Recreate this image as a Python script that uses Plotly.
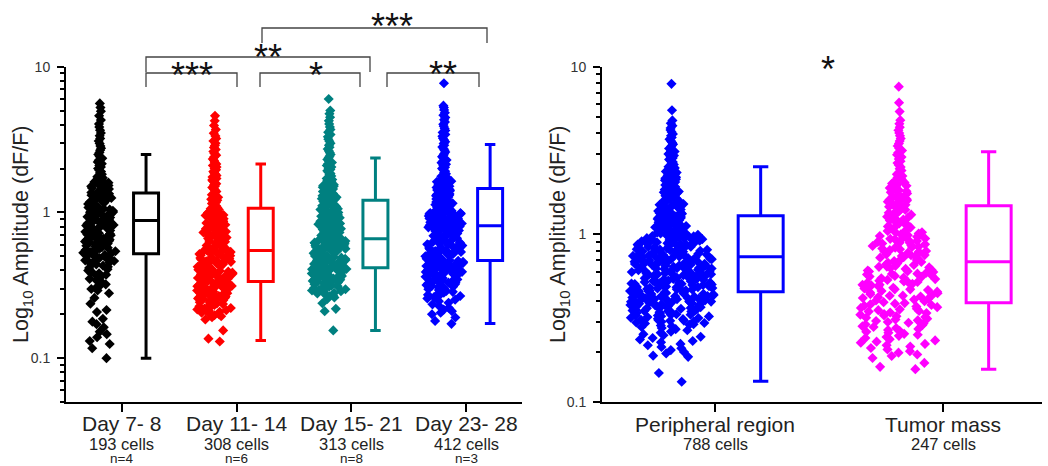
import math
import plotly.graph_objects as go

W, H = 1048, 466

# ---------------- categories / labels ----------------
left_groups = ["Day 7- 8", "Day 11- 14", "Day 15- 21", "Day 23- 28"]
left_cells = ["193 cells", "308 cells", "313 cells", "412 cells"]
left_n = ["n=4", "n=6", "n=8", "n=3"]
right_groups = ["Peripheral region", "Tumor mass"]
right_cells = ["788 cells", "247 cells"]

left_colors = ["#000000", "#ff0000", "#008080", "#0000ff"]
right_colors = ["#0000ff", "#ff00ff"]

# ---------------- per-cell amplitudes (dF/F) ----------------
day7_8 = [
    0.100, 0.117, 0.125, 0.131, 0.139, 0.146, 0.152, 0.163, 0.171, 0.178, 0.186, 0.207, 0.214, 0.236, 0.259, 0.279,
    0.291, 0.298, 0.306, 0.314, 0.321, 0.333, 0.341, 0.35, 0.358, 0.367, 0.374, 0.382, 0.391, 0.399, 0.407, 0.416,
    0.423, 0.431, 0.44, 0.447, 0.453, 0.458, 0.464, 0.469, 0.475, 0.481, 0.487, 0.492, 0.499, 0.505, 0.511, 0.517,
    0.522, 0.528, 0.534, 0.541, 0.546, 0.553, 0.559, 0.566, 0.572, 0.578, 0.585, 0.591, 0.598, 0.604, 0.611, 0.618,
    0.625, 0.631, 0.638, 0.646, 0.653, 0.66, 0.667, 0.675, 0.682, 0.69, 0.697, 0.705, 0.713, 0.72, 0.728, 0.736,
    0.744, 0.752, 0.761, 0.769, 0.777, 0.786, 0.794, 0.803, 0.812, 0.82, 0.829, 0.838, 0.847, 0.856, 0.865, 0.875,
    0.884, 0.894, 0.903, 0.913, 0.923, 0.932, 0.942, 0.952, 0.963, 0.973, 0.983, 0.994, 1.005, 1.015, 1.026, 1.037,
    1.048, 1.06, 1.071, 1.082, 1.094, 1.106, 1.118, 1.13, 1.142, 1.154, 1.167, 1.179, 1.192, 1.205, 1.218, 1.231,
    1.244, 1.258, 1.271, 1.285, 1.299, 1.313, 1.327, 1.341, 1.37, 1.39, 1.41, 1.43, 1.45, 1.47, 1.49, 1.51, 1.53,
    1.555, 1.58, 1.6, 1.62, 1.645, 1.67, 1.7, 1.73, 1.76, 1.79, 1.83, 1.87, 1.91, 1.95, 2.0, 2.05, 2.1, 2.16, 2.22,
    2.28, 2.35, 2.42, 2.5, 2.58, 2.67, 2.76, 2.86, 2.97, 3.09, 3.22, 3.36, 3.51, 3.67, 3.85, 4.05, 4.3, 4.6, 4.95,
    5.25, 5.6]

day11_14 = [
    0.13, 0.136, 0.155, 0.184,
    0.191, 0.194, 0.197, 0.2, 0.202, 0.205, 0.208, 0.211, 0.213, 0.216, 0.219, 0.221, 0.224, 0.227, 0.229, 0.232,
    0.235, 0.237, 0.24, 0.242, 0.245, 0.247, 0.25, 0.252, 0.255, 0.257, 0.26, 0.262, 0.265, 0.267, 0.27, 0.272,
    0.274, 0.277, 0.279, 0.281, 0.284, 0.286, 0.288, 0.291, 0.293, 0.295, 0.297, 0.3, 0.302, 0.304, 0.306, 0.308,
    0.311, 0.313, 0.315, 0.317, 0.321, 0.325, 0.329, 0.334,
    0.338, 0.341, 0.345, 0.348, 0.351, 0.355, 0.358, 0.361, 0.365, 0.368, 0.372, 0.375, 0.379, 0.382, 0.386, 0.389,
    0.393, 0.397, 0.4, 0.404, 0.408, 0.411, 0.415, 0.419, 0.423, 0.427, 0.431, 0.434, 0.438, 0.442, 0.446, 0.45,
    0.454, 0.458, 0.462, 0.466, 0.471, 0.475, 0.479, 0.483, 0.487, 0.492, 0.496, 0.5, 0.505, 0.509, 0.513, 0.518,
    0.522, 0.527, 0.531, 0.536, 0.54, 0.545, 0.547, 0.549, 0.551, 0.553, 0.556, 0.558,
    0.562, 0.57, 0.578, 0.586, 0.594, 0.602, 0.611, 0.619, 0.628, 0.636, 0.645, 0.654, 0.663, 0.672, 0.681, 0.69,
    0.7, 0.709, 0.719, 0.729, 0.739, 0.749, 0.759, 0.769, 0.78, 0.79, 0.801, 0.812, 0.823, 0.834, 0.845, 0.857,
    0.868, 0.88, 0.892, 0.904, 0.916, 0.929, 0.941, 0.954, 0.967, 0.98, 0.993, 1.006, 1.02, 1.034, 1.047, 1.061,
    1.068, 0.615, 0.652, 0.705, 0.733, 0.774, 0.83, 0.87, 0.93, 0.96, 1.01, 1.04,
    1.08, 1.1, 1.11, 1.13, 1.15, 1.17, 1.19, 1.21, 1.23, 1.25, 1.27, 1.29, 1.32, 1.34, 1.37, 1.39, 1.42, 1.45, 1.48,
    1.51, 1.54, 1.57, 1.6, 1.64, 1.67, 1.71, 1.75, 1.79, 1.83, 1.87, 1.91, 1.96, 2.0, 2.05, 2.1, 2.15, 2.21, 2.27,
    2.33, 2.4, 2.47, 2.54, 2.62, 2.7, 2.79, 2.88, 2.98, 3.09, 3.21, 3.35, 3.5, 3.7, 3.95, 4.25, 4.6]

day15_21 = [
    0.155, 0.21, 0.218, 0.238,
    0.255, 0.261, 0.266, 0.27, 0.274, 0.278, 0.281, 0.285, 0.288, 0.291, 0.294, 0.297, 0.3, 0.303, 0.306, 0.309,
    0.312, 0.315, 0.318, 0.321, 0.324, 0.327, 0.33, 0.333, 0.336, 0.339, 0.342, 0.345, 0.348, 0.351, 0.354, 0.357,
    0.36, 0.363, 0.366, 0.369, 0.372, 0.375, 0.378, 0.381, 0.384, 0.387, 0.39, 0.393, 0.396, 0.399, 0.402, 0.404,
    0.407, 0.409, 0.411, 0.413, 0.414, 0.415, 0.416,
    0.419, 0.423, 0.427, 0.431, 0.435, 0.439, 0.443, 0.447, 0.451, 0.455, 0.459, 0.463, 0.467, 0.471, 0.476, 0.48,
    0.484, 0.489, 0.493, 0.497, 0.502, 0.506, 0.511, 0.515, 0.52, 0.525, 0.529, 0.534, 0.539, 0.543, 0.548, 0.553,
    0.558, 0.563, 0.568, 0.573, 0.578, 0.583, 0.588, 0.593, 0.598, 0.604, 0.609, 0.614, 0.62, 0.625, 0.631, 0.636,
    0.642, 0.647, 0.653, 0.656, 0.658, 0.544, 0.571, 0.596, 0.617, 0.633, 0.645, 0.651,
    0.663, 0.671, 0.679, 0.687, 0.695, 0.703, 0.712, 0.72, 0.729, 0.737, 0.746, 0.755, 0.764, 0.773, 0.782, 0.791,
    0.8, 0.81, 0.819, 0.829, 0.839, 0.848, 0.858, 0.868, 0.879, 0.889, 0.899, 0.91, 0.92, 0.931, 0.942, 0.953,
    0.964, 0.975, 0.987, 0.998, 1.01, 1.022, 1.034, 1.046, 1.058, 0.68, 0.71, 0.75, 0.79, 0.84, 0.87, 0.93, 0.97,
    1.03,
    1.07, 1.08, 1.1, 1.11, 1.13, 1.14, 1.16, 1.17, 1.19, 1.2, 1.22, 1.24, 1.25, 1.27, 1.29, 1.3, 1.32, 1.34, 1.36,
    1.37, 1.39, 1.41, 1.43, 1.45, 1.47, 1.49, 1.51, 1.53, 1.55, 1.57, 1.59, 1.12, 1.23, 1.35, 1.46,
    1.62, 1.65, 1.68, 1.71, 1.74, 1.78, 1.81, 1.85, 1.89, 1.93, 1.97, 2.01, 2.05, 2.1, 2.15, 2.2, 2.25, 2.31, 2.37,
    2.43, 2.5, 2.57, 2.64, 2.72, 2.8, 2.89, 2.98, 3.08, 3.18, 3.3, 3.42, 3.55, 3.7, 3.86, 4.05, 4.25, 4.5, 4.75, 5.0,
    6.0]

day23_28 = [
    0.172, 0.18, 0.19, 0.2, 0.205, 0.21, 0.215,
    0.222, 0.228, 0.234, 0.24, 0.246, 0.252, 0.257, 0.262, 0.267, 0.272, 0.277, 0.281, 0.285, 0.289, 0.293, 0.297,
    0.301, 0.305, 0.309, 0.313, 0.317, 0.321, 0.325, 0.329, 0.332, 0.336, 0.34, 0.344, 0.347, 0.351, 0.355, 0.358,
    0.362, 0.366, 0.369, 0.373, 0.377, 0.38, 0.384, 0.388, 0.391, 0.395, 0.399, 0.402, 0.406, 0.41, 0.413, 0.417,
    0.421, 0.424, 0.428, 0.432, 0.436, 0.439, 0.443, 0.447, 0.451, 0.454, 0.458, 0.462, 0.466, 0.31, 0.35, 0.39,
    0.42, 0.445, 0.27, 0.33, 0.37, 0.41,
    0.47, 0.475, 0.48, 0.485, 0.49, 0.495, 0.5, 0.505, 0.51, 0.515, 0.52, 0.526, 0.531, 0.536, 0.542, 0.547, 0.553,
    0.558, 0.564, 0.569, 0.575, 0.581, 0.586, 0.592, 0.598, 0.604, 0.61, 0.616, 0.622, 0.628, 0.634, 0.64, 0.646,
    0.652, 0.659, 0.665, 0.671, 0.678, 0.684, 0.691, 0.697, 0.704, 0.711, 0.717, 0.724, 0.731, 0.738, 0.745, 0.752,
    0.759, 0.766, 0.773, 0.78, 0.788, 0.795, 0.802, 0.806, 0.809, 0.49, 0.53, 0.57, 0.61, 0.65, 0.69, 0.72, 0.76,
    0.79, 0.51, 0.6, 0.7,
    0.813, 0.818, 0.823, 0.828, 0.834, 0.839, 0.845, 0.85, 0.856, 0.861, 0.867, 0.873, 0.878, 0.884, 0.89, 0.896,
    0.902, 0.908, 0.914, 0.92, 0.926, 0.932, 0.938, 0.944, 0.951, 0.957, 0.963, 0.97, 0.976, 0.983, 0.99, 0.996,
    0.83, 0.87, 0.91, 0.95, 0.98, 0.86, 0.93, 0.99,
    1.005, 1.015, 1.025, 1.035, 1.045, 1.055, 1.066, 1.076, 1.087, 1.098, 1.109, 1.12, 1.131, 1.142, 1.154, 1.165,
    1.177, 1.189, 1.2, 1.212, 1.225, 1.237, 1.249, 1.262, 1.275, 1.287, 1.3, 1.313, 1.327, 1.34, 1.354, 1.367,
    1.381, 1.395, 1.409, 1.423, 1.438, 1.452, 1.467, 1.482, 1.497, 1.512, 1.527, 1.543, 1.558, 1.574, 1.59, 1.606,
    1.622, 1.638, 1.655, 1.08, 1.19, 1.29, 1.4,
    1.68, 1.71, 1.74, 1.77, 1.8, 1.84, 1.88, 1.92, 1.96, 2.0, 2.04, 2.09, 2.14, 2.19, 2.24, 2.29, 2.35, 2.41, 2.47,
    2.53, 2.6, 2.67, 2.74, 2.81, 2.89, 2.97, 3.05, 3.14, 3.23, 3.33, 3.43, 3.54, 3.65, 3.77, 3.9, 4.03, 4.17, 4.32,
    4.48, 4.65, 4.83, 5.05, 5.25, 5.4, 7.7]

peripheral = [
    0.132, 0.149, 0.186, 0.189, 0.195, 0.199, 0.204, 0.209, 0.213, 0.218, 0.222, 0.227, 0.231, 0.236, 0.241, 0.245,
    0.25, 0.254, 0.259, 0.263, 0.268, 0.272, 0.276, 0.28, 0.283, 0.286, 0.289,
    0.291, 0.294, 0.296, 0.298, 0.301, 0.302, 0.305, 0.308, 0.309, 0.312, 0.314, 0.317, 0.318, 0.321, 0.324, 0.325,
    0.327, 0.331, 0.332, 0.334, 0.337, 0.339, 0.342, 0.343, 0.346, 0.348, 0.351, 0.353, 0.354, 0.357, 0.36, 0.361,
    0.364, 0.366, 0.368, 0.371, 0.373, 0.375, 0.377, 0.379, 0.382, 0.384, 0.386, 0.388, 0.391, 0.393, 0.395, 0.397,
    0.399, 0.306, 0.328, 0.349, 0.363, 0.381, 0.396,
    0.401, 0.403, 0.406, 0.408, 0.41, 0.413, 0.415, 0.417, 0.42, 0.422, 0.425, 0.427, 0.429, 0.432, 0.434, 0.437,
    0.439, 0.442, 0.444, 0.447, 0.449, 0.452, 0.454, 0.457, 0.459, 0.462, 0.465, 0.467, 0.47, 0.472, 0.475, 0.478,
    0.48, 0.483, 0.486, 0.488, 0.491, 0.494, 0.496, 0.499, 0.502, 0.505, 0.507, 0.51, 0.513, 0.516, 0.519, 0.521,
    0.524, 0.527, 0.53, 0.533, 0.536, 0.539, 0.542, 0.545, 0.548, 0.411, 0.426, 0.441, 0.456, 0.469, 0.484, 0.498,
    0.512, 0.526, 0.538, 0.419, 0.463, 0.509,
    0.551, 0.555, 0.558, 0.561, 0.565, 0.568, 0.571, 0.575, 0.578, 0.582, 0.585, 0.589, 0.592, 0.596, 0.6, 0.603,
    0.607, 0.611, 0.614, 0.618, 0.622, 0.626, 0.63, 0.633, 0.637, 0.641, 0.645, 0.649, 0.653, 0.657, 0.662, 0.666,
    0.67, 0.674, 0.678, 0.683, 0.687, 0.691, 0.696, 0.7, 0.705, 0.709, 0.714, 0.718, 0.723, 0.728, 0.732, 0.737,
    0.742, 0.747, 0.563, 0.587, 0.609, 0.628, 0.651, 0.672, 0.693, 0.716, 0.735, 0.579, 0.624, 0.668, 0.711, 0.744,
    0.598, 0.639, 0.681, 0.726, 0.573, 0.659,
    0.752, 0.757, 0.762, 0.767, 0.772, 0.777, 0.782, 0.788, 0.793, 0.798, 0.804, 0.809, 0.815, 0.82, 0.826, 0.831,
    0.837, 0.843, 0.849, 0.854, 0.86, 0.866, 0.872, 0.878, 0.885, 0.891, 0.897, 0.903, 0.91, 0.916, 0.923, 0.929,
    0.936, 0.943, 0.949, 0.956, 0.963, 0.97, 0.977, 0.984, 0.991, 0.998, 0.765, 0.795, 0.823, 0.852, 0.881, 0.913,
    0.941, 0.972, 0.779, 0.84, 0.9, 0.96, 0.811, 0.869, 0.926, 0.988, 0.757, 0.994,
    1.004, 1.012, 1.021, 1.03, 1.038, 1.047, 1.056, 1.065, 1.074, 1.083, 1.093, 1.102, 1.112, 1.121, 1.131, 1.141,
    1.151, 1.161, 1.171, 1.182, 1.192, 1.203, 1.214, 1.225, 1.236, 1.247, 1.258, 1.27, 1.281, 1.293, 1.305, 1.317,
    1.329, 1.341, 1.354, 1.366, 1.379, 1.392, 1.405, 1.418, 1.432, 1.445, 1.459, 1.473, 1.487, 1.501, 1.516, 1.53,
    1.026, 1.077, 1.125, 1.178, 1.23, 1.288, 1.35,
    1.55, 1.57, 1.59, 1.6, 1.62, 1.64, 1.66, 1.68, 1.7, 1.72, 1.74, 1.76, 1.78, 1.8, 1.83, 1.85, 1.87, 1.9, 1.92,
    1.95, 1.97, 2.0, 2.02, 2.05, 2.08, 2.1, 2.13, 2.16, 2.19, 2.22, 2.25, 2.28, 2.31, 2.34, 2.37, 1.65, 1.79, 1.93,
    2.07, 2.24,
    2.41, 2.45, 2.49, 2.53, 2.57, 2.61, 2.66, 2.7, 2.75, 2.8, 2.85, 2.9, 2.95, 3.01, 3.06, 3.12, 3.18, 3.25, 3.31,
    3.38, 3.45, 3.53, 3.61, 3.69, 3.78, 3.87, 3.97, 4.08, 4.19, 4.31, 4.45, 4.6, 4.78, 5.5, 7.9]

tumor_mass = [
    0.157, 0.162, 0.171, 0.183, 0.188, 0.192, 0.197, 0.201, 0.206, 0.21, 0.214, 0.218, 0.222, 0.226, 0.229, 0.233,
    0.237, 0.241, 0.244, 0.248, 0.252, 0.255, 0.259, 0.262, 0.266, 0.269, 0.273, 0.276, 0.28, 0.283, 0.287, 0.29,
    0.294, 0.297, 0.3, 0.304, 0.307, 0.311, 0.314, 0.318, 0.321, 0.325, 0.328, 0.332, 0.335, 0.339, 0.342, 0.346,
    0.349, 0.353, 0.357, 0.36, 0.364, 0.368, 0.371, 0.375, 0.379, 0.382, 0.386, 0.389,
    0.394, 0.399, 0.403, 0.408, 0.412, 0.417, 0.421, 0.426, 0.431, 0.435, 0.44, 0.445, 0.45, 0.455, 0.46, 0.465,
    0.47, 0.475, 0.48, 0.485, 0.491, 0.496, 0.501, 0.507, 0.512, 0.518, 0.524, 0.529, 0.535, 0.541, 0.547, 0.553,
    0.559, 0.565, 0.571, 0.577, 0.583, 0.59, 0.596, 0.602, 0.609, 0.615, 0.622, 0.629, 0.635, 0.642, 0.649, 0.656,
    0.663, 0.67, 0.677, 0.684, 0.43, 0.47, 0.52, 0.56, 0.6, 0.64, 0.5, 0.58,
    0.694, 0.702, 0.71, 0.718, 0.726, 0.735, 0.743, 0.752, 0.76, 0.769, 0.778, 0.787, 0.796, 0.805, 0.814, 0.823,
    0.833, 0.842, 0.852, 0.862, 0.872, 0.882, 0.892, 0.902, 0.913, 0.923, 0.934, 0.945, 0.956, 0.967, 0.978, 0.989,
    1.001, 1.012, 1.024, 1.036, 1.048, 0.73, 0.79, 0.84, 0.89, 0.94, 0.99, 1.03, 0.75,
    1.07, 1.085, 1.1, 1.115, 1.13, 1.145, 1.16, 1.175, 1.19, 1.21, 1.225, 1.24, 1.26, 1.275, 1.29, 1.31, 1.33,
    1.345, 1.365, 1.385, 1.4, 1.42, 1.44, 1.46, 1.48, 1.5, 1.52, 1.545, 1.565, 1.59, 1.61, 1.635, 1.66, 1.68, 1.705,
    1.73, 1.755, 1.78, 1.81, 1.835, 1.86, 1.89, 1.92, 1.95, 1.98, 2.01, 2.04, 2.07, 1.5, 1.62,
    2.13, 2.18, 2.23, 2.28, 2.34, 2.4, 2.46, 2.52, 2.59, 2.66, 2.73, 2.81, 2.89, 2.98, 3.07, 3.16, 3.26, 3.37, 3.48,
    3.6, 3.73, 3.87, 4.02, 4.18, 4.36, 4.56, 4.8, 5.4, 6.1, 7.6]

left_values = [day7_8, day11_14, day15_21, day23_28]
right_values = [peripheral, tumor_mass]

# ---------------- box statistics ----------------
left_q1 = [0.52, 0.336, 0.417, 0.468]
left_median = [0.88, 0.548, 0.66, 0.81]
left_q3 = [1.36, 1.07, 1.21, 1.46]
left_lower = [0.10, 0.132, 0.155, 0.173]
left_upper = [2.50, 2.15, 2.36, 2.92]

right_q1 = [0.455, 0.391]
right_median = [0.736, 0.687]
right_q3 = [1.29, 1.48]
right_lower = [0.133, 0.157]
right_upper = [2.53, 3.11]

sig_left = ["***", "*", "**", "**", "***"]
sig_right = ["*"]

# ---------------- style: scatter-cloud widths (pixels) per value band ----------------
left_bands = [
    [(0.45, 26), (1.66, 36), (99, 7)],
    [(1.03, 36), (99, 10)],
    [(1.06, 36), (1.6, 18), (99, 7)],
    [(1.0, 38), (1.66, 20), (99, 7)],
]
right_bands = [
    [(0.29, 76), (1.0, 84), (1.54, 36), (2.4, 18), (99, 8)],
    [(1.06, 80), (2.1, 28), (99, 7)],
]

FONT = "Arial, 'Liberation Sans', sans-serif"
L_X0, L_X1 = 66, 522
R_X0, R_X1 = 602, 1042
Y_TOP, Y_BOT = 66.7, 402
L_RANGE = [0.512, 4.488]
R_RANGE = [0.504, 2.434]
L_UNIT = (L_X1 - L_X0) / (L_RANGE[1] - L_RANGE[0])
R_UNIT = (R_X1 - R_X0) / (R_RANGE[1] - R_RANGE[0])
MSIZE = 7.8


def px(x):
    return x / W


def py(y):
    return 1 - y / H


fig = go.Figure()


def add_cloud(vals, pos, bands, unit, col, xa, ya):
    lo = 0
    for hi, wpx in bands:
        sub = [v for v in vals if lo <= v < hi]
        lo = hi
        if not sub:
            continue
        fig.add_trace(go.Box(
            y=sub, x0=pos, width=wpx / unit, boxpoints="all", jitter=1, pointpos=0,
            fillcolor="rgba(0,0,0,0)", line=dict(width=0, color="rgba(0,0,0,0)"),
            marker=dict(symbol="diamond", size=MSIZE, color=col, line=dict(width=0)),
            xaxis=xa, yaxis=ya, showlegend=False, hoverinfo="y"))


for i, (vals, col) in enumerate(zip(left_values, left_colors)):
    pos = i + 1
    add_cloud(vals, pos - 0.19, left_bands[i], L_UNIT, col, "x", "y")
    fig.add_trace(go.Box(
        x=[pos + 0.21], q1=[left_q1[i]], median=[left_median[i]], q3=[left_q3[i]],
        lowerfence=[left_lower[i]], upperfence=[left_upper[i]], width=25 / L_UNIT, whiskerwidth=0.42,
        boxpoints=False, fillcolor="rgba(255,255,255,0)", line=dict(color=col, width=3),
        xaxis="x", yaxis="y", showlegend=False))

for i, (vals, col) in enumerate(zip(right_values, right_colors)):
    pos = i + 1
    add_cloud(vals, pos - 0.19, right_bands[i], R_UNIT, col, "x2", "y2")
    fig.add_trace(go.Box(
        x=[pos + 0.20], q1=[right_q1[i]], median=[right_median[i]], q3=[right_q3[i]],
        lowerfence=[right_lower[i]], upperfence=[right_upper[i]], width=45 / R_UNIT, whiskerwidth=0.34,
        boxpoints=False, fillcolor="rgba(255,255,255,0)", line=dict(color=col, width=3),
        xaxis="x2", yaxis="y2", showlegend=False))

minor_vals = [round(v * m, 3) for v in (0.01, 0.1, 1) for m in range(2, 10)]

yaxis_common = dict(
    type="log", showgrid=False, zeroline=False, showline=True, linecolor="black", linewidth=2,
    automargin=False, ticks="outside", ticklen=7, tickwidth=1.5, tickcolor="black",
    tickmode="array", tickvals=[0.1, 1, 10], ticktext=["0.1", "1", "10"],
    tickfont=dict(family=FONT, size=14, color="#333333"), ticklabelstandoff=4,
    minor=dict(ticks="outside", ticklen=4, tickwidth=1.5, tickcolor="black", tickmode="array",
               tickvals=minor_vals, showgrid=False),
    domain=[py(Y_BOT), py(Y_TOP)],
)

xaxis_common = dict(
    showgrid=False, zeroline=False, showline=True, linecolor="black", linewidth=2, automargin=False,
    ticks="outside", ticklen=8, tickwidth=2, tickcolor="black", showticklabels=False, tickmode="array",
)

fig.update_layout(
    width=W, height=H, margin=dict(l=0, r=0, t=0, b=0, autoexpand=False),
    paper_bgcolor="white", plot_bgcolor="white",
    font=dict(family=FONT, color="#222222"),
    xaxis=dict(xaxis_common, domain=[px(L_X0), px(L_X1)], range=L_RANGE, tickvals=[1, 2, 3, 4], anchor="y"),
    yaxis=dict(yaxis_common, range=[math.log10(0.05), 1], anchor="x"),
    xaxis2=dict(xaxis_common, domain=[px(R_X0), px(R_X1)], range=R_RANGE, tickvals=[1, 2], anchor="y2"),
    yaxis2=dict(yaxis_common, range=[-1, 1], anchor="x2"),
)

ann = []
for i in range(4):
    ann.append(dict(x=i + 1, y=py(423.5), xref="x", yref="paper", text=left_groups[i], showarrow=False,
                    font=dict(family=FONT, size=21, color="#222222"), xanchor="center", yanchor="middle"))
    ann.append(dict(x=i + 1, y=py(443.5), xref="x", yref="paper", text=left_cells[i], showarrow=False,
                    font=dict(family=FONT, size=16.5, color="#222222"), xanchor="center", yanchor="middle"))
    ann.append(dict(x=i + 1, y=py(458.5), xref="x", yref="paper", text=left_n[i], showarrow=False,
                    font=dict(family=FONT, size=13.5, color="#222222"), xanchor="center", yanchor="middle"))
for i in range(2):
    ann.append(dict(x=i + 1, y=py(424), xref="x2", yref="paper", text=right_groups[i], showarrow=False,
                    font=dict(family=FONT, size=21, color="#222222"), xanchor="center", yanchor="middle"))
    ann.append(dict(x=i + 1, y=py(444), xref="x2", yref="paper", text=right_cells[i], showarrow=False,
                    font=dict(family=FONT, size=16.5, color="#222222"), xanchor="center", yanchor="middle"))

for xpix in (22, 559):
    ann.append(dict(x=px(xpix), y=py(234), xref="paper", yref="paper",
                    text="Log<sub>10</sub> Amplitude (dF/F)", textangle=-90, showarrow=False,
                    font=dict(family=FONT, size=21.5, color="#222222"),
                    xanchor="center", yanchor="middle"))

# significance brackets: (x_left, x_right, y_top, y_leg_bottom, star_x, star_glyph_center_y) in pixels
brackets = [
    (146, 237, 73, 87, 192, 69),
    (260, 360, 73, 87, 316, 69),
    (387, 479, 73, 87, 443, 68),
    (146, 370, 57, 72, 268, 51),
    (262, 487, 28, 43, 392, 21),
]
shapes = []
for (xa, xb, yt, yb, sx, sy), s in zip(brackets, sig_left):
    shapes.append(dict(type="path", xref="paper", yref="paper",
                       path=f"M {px(xa)} {py(yb)} L {px(xa)} {py(yt)} L {px(xb)} {py(yt)} L {px(xb)} {py(yb)}",
                       line=dict(color="#444444", width=1.3)))
    ann.append(dict(x=px(sx), y=py(sy + 6), xref="paper", yref="paper", text=s, showarrow=False,
                    font=dict(family=FONT, size=36, color="#111111"), xanchor="center", yanchor="middle"))
ann.append(dict(x=px(828), y=py(63 + 6), xref="paper", yref="paper", text=sig_right[0], showarrow=False,
                font=dict(family=FONT, size=36, color="#111111"), xanchor="center", yanchor="middle"))

fig.update_layout(annotations=ann, shapes=shapes)
fig.write_html("out.html", config={"displayModeBar": False},
               post_script="document.body.style.margin='0';document.body.style.overflow='hidden';")
